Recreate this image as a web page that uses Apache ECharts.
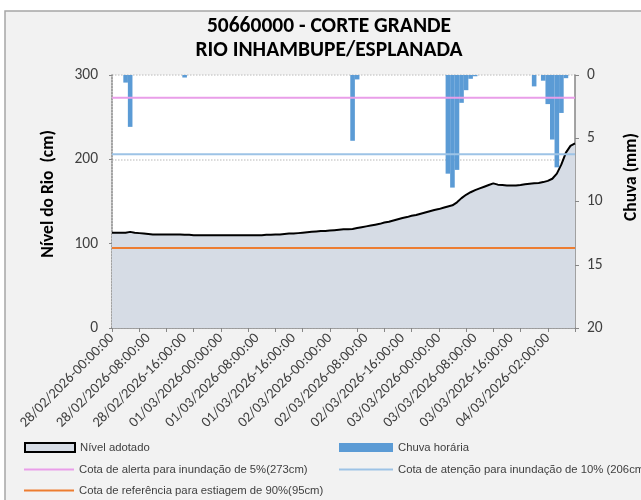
<!DOCTYPE html>
<html>
<head>
<meta charset="utf-8">
<script src="https://cdn.jsdelivr.net/npm/echarts@6/dist/echarts.min.js"></script>
<style>
  html, body { margin: 0; padding: 0; background: #fff; }
  #chart { width: 641px; height: 500px; }
</style>
</head>
<body>
<div id="chart"></div>
<script>
// categorias horarias (faltam 03/03 22:00 e 23:00)
const horas = [
  '28/02/2026-00:00:00','28/02/2026-01:00:00','28/02/2026-02:00:00','28/02/2026-03:00:00','28/02/2026-04:00:00','28/02/2026-05:00:00',
  '28/02/2026-06:00:00','28/02/2026-07:00:00','28/02/2026-08:00:00','28/02/2026-09:00:00','28/02/2026-10:00:00','28/02/2026-11:00:00',
  '28/02/2026-12:00:00','28/02/2026-13:00:00','28/02/2026-14:00:00','28/02/2026-15:00:00','28/02/2026-16:00:00','28/02/2026-17:00:00',
  '28/02/2026-18:00:00','28/02/2026-19:00:00','28/02/2026-20:00:00','28/02/2026-21:00:00','28/02/2026-22:00:00','28/02/2026-23:00:00',
  '01/03/2026-00:00:00','01/03/2026-01:00:00','01/03/2026-02:00:00','01/03/2026-03:00:00','01/03/2026-04:00:00','01/03/2026-05:00:00',
  '01/03/2026-06:00:00','01/03/2026-07:00:00','01/03/2026-08:00:00','01/03/2026-09:00:00','01/03/2026-10:00:00','01/03/2026-11:00:00',
  '01/03/2026-12:00:00','01/03/2026-13:00:00','01/03/2026-14:00:00','01/03/2026-15:00:00','01/03/2026-16:00:00','01/03/2026-17:00:00',
  '01/03/2026-18:00:00','01/03/2026-19:00:00','01/03/2026-20:00:00','01/03/2026-21:00:00','01/03/2026-22:00:00','01/03/2026-23:00:00',
  '02/03/2026-00:00:00','02/03/2026-01:00:00','02/03/2026-02:00:00','02/03/2026-03:00:00','02/03/2026-04:00:00','02/03/2026-05:00:00',
  '02/03/2026-06:00:00','02/03/2026-07:00:00','02/03/2026-08:00:00','02/03/2026-09:00:00','02/03/2026-10:00:00','02/03/2026-11:00:00',
  '02/03/2026-12:00:00','02/03/2026-13:00:00','02/03/2026-14:00:00','02/03/2026-15:00:00','02/03/2026-16:00:00','02/03/2026-17:00:00',
  '02/03/2026-18:00:00','02/03/2026-19:00:00','02/03/2026-20:00:00','02/03/2026-21:00:00','02/03/2026-22:00:00','02/03/2026-23:00:00',
  '03/03/2026-00:00:00','03/03/2026-01:00:00','03/03/2026-02:00:00','03/03/2026-03:00:00','03/03/2026-04:00:00','03/03/2026-05:00:00',
  '03/03/2026-06:00:00','03/03/2026-07:00:00','03/03/2026-08:00:00','03/03/2026-09:00:00','03/03/2026-10:00:00','03/03/2026-11:00:00',
  '03/03/2026-12:00:00','03/03/2026-13:00:00','03/03/2026-14:00:00','03/03/2026-15:00:00','03/03/2026-16:00:00','03/03/2026-17:00:00',
  '03/03/2026-18:00:00','03/03/2026-19:00:00','03/03/2026-20:00:00','03/03/2026-21:00:00',
  '04/03/2026-00:00:00','04/03/2026-01:00:00','04/03/2026-02:00:00','04/03/2026-03:00:00','04/03/2026-04:00:00','04/03/2026-05:00:00',
  '04/03/2026-06:00:00','04/03/2026-07:00:00','04/03/2026-08:00:00'
]

// nivel do rio (cm)
const nivel = [
  113, 113, 113, 113, 114, 113, 112.5, 112, 111.5, 111,
  111, 111, 111, 111, 111, 111, 110.5, 110.5, 110, 110,
  110, 110, 110, 110, 110, 110, 110, 110, 110, 110,
  110, 110, 110, 110, 110.5, 110.5, 111, 111, 111.5, 112,
  112, 112.5, 113, 113.5, 114, 114.5, 115, 115, 115.5, 116,
  116.5, 117, 117, 117.5, 118.5, 119.5, 120.5, 121.5, 122.5, 123.5,
  125, 126, 127.5, 129, 130.5, 131.5, 133, 134, 135.5, 137,
  138.5, 140, 141, 142.5, 144, 145.5, 149, 154, 158, 161,
  163.5, 165.5, 167.5, 169.5, 171.5, 170, 169.5, 169, 169, 169,
  169.5, 170.5, 171, 171.5, 172, 173, 174.5, 177, 183, 194,
  208, 216, 219
]

// chuva horaria (mm)
const chuva = [
  0, 0, 0, 0.6, 4.1, 0, 0, 0, 0, 0,
  0, 0, 0, 0, 0, 0, 0.2, 0, 0, 0,
  0, 0, 0, 0, 0, 0, 0, 0, 0, 0,
  0, 0, 0, 0, 0, 0, 0, 0, 0, 0,
  0, 0, 0, 0, 0, 0, 0, 0, 0, 0,
  0, 0, 0, 5.2, 0.35, 0, 0, 0, 0, 0,
  0, 0, 0, 0, 0, 0, 0, 0, 0, 0,
  0, 0, 0, 0, 7.8, 8.9, 7.5, 2.2, 1.2, 0.3,
  0.1, 0, 0, 0, 0, 0, 0, 0, 0, 0,
  0, 0, 0, 0.9, 0, 0.45, 2.3, 5.1, 7.3, 3.0,
  0.25, 0, 0
]

const cotaAlerta = 273
const cotaAtencao = 206
const cotaReferencia = 95

const nivelTicks = [0, 100, 200, 300]
const chuvaTicks = [0, 5, 10, 15, 20]

const FONT = 'Carlito, "Liberation Sans", Arial, sans-serif'
const LEG_FONT = '"Liberation Sans", Arial, sans-serif'

const first = horas[0]
const last = horas[horas.length - 1]

const legendBase = {
  orient: 'horizontal',
  padding: 0,
  itemGap: 0,
  selectedMode: false,
  textStyle: { fontSize: 11.3, color: '#404040', fontFamily: LEG_FONT }
}

const option = {
  animation: false,
  backgroundColor: '#ffffff',
  textStyle: { fontFamily: FONT },
  graphic: [
    {
      type: 'rect', z: -100, silent: true,
      shape: { x: 5, y: 11, width: 700, height: 600 },
      style: { fill: '#f2f2f2', stroke: '#a6a6a6', lineWidth: 1.5 }
    },
    {
      type: 'text', x: 329, y: 27,
      style: { text: '50660000 - CORTE GRANDE', font: 'bold 21.5px ' + FONT, fill: '#000', textAlign: 'center', textVerticalAlign: 'middle' }
    },
    {
      type: 'text', x: 329, y: 51,
      style: { text: 'RIO INHAMBUPE/ESPLANADA', font: 'bold 21.5px ' + FONT, fill: '#000', textAlign: 'center', textVerticalAlign: 'middle' }
    },
    {
      type: 'text', x: 49, y: 194, rotation: Math.PI / 2,
      style: { text: 'Nível do Rio  (cm)', font: 'bold 17.5px ' + FONT, fill: '#000', textAlign: 'center', textVerticalAlign: 'middle' }
    },
    {
      type: 'text', x: 632, y: 177, rotation: Math.PI / 2,
      style: { text: 'Chuva (mm)', font: 'bold 17.5px ' + FONT, fill: '#000', textAlign: 'center', textVerticalAlign: 'middle' }
    }
  ],
  grid: {
    left: 112, right: 66, top: 75, bottom: 172,
    show: true, backgroundColor: '#ffffff', borderWidth: 0
  },
  legend: [
    Object.assign({}, legendBase, {
      left: 24, top: 442, itemWidth: 50, itemHeight: 9,
      data: [{ name: 'Nível adotado', icon: 'rect', itemStyle: { color: '#d6dce5', borderColor: '#000', borderWidth: 2 } }]
    }),
    Object.assign({}, legendBase, {
      left: 339, top: 442, itemWidth: 54, itemHeight: 9,
      data: [{ name: 'Chuva horária', icon: 'rect', itemStyle: { color: '#5b9bd5' } }]
    }),
    Object.assign({}, legendBase, {
      left: 24, top: 464, itemWidth: 50, itemHeight: 2,
      data: [{ name: 'Cota de alerta para inundação de 5%(273cm)', icon: 'rect', itemStyle: { color: '#e99ee9' } }]
    }),
    Object.assign({}, legendBase, {
      left: 339, top: 464, itemWidth: 54, itemHeight: 2,
      data: [{ name: 'Cota de atenção para inundação de 10% (206cm)', icon: 'rect', itemStyle: { color: '#9dc3e6' } }]
    }),
    Object.assign({}, legendBase, {
      left: 24, top: 485, itemWidth: 50, itemHeight: 2,
      data: [{ name: 'Cota de referência para estiagem de 90%(95cm)', icon: 'rect', itemStyle: { color: '#ed7d31' } }]
    })
  ],
  xAxis: {
    type: 'category',
    data: horas,
    boundaryGap: false,
    axisLine: { lineStyle: { color: '#868686', width: 1.5 } },
    axisTick: { interval: 5, length: 4, lineStyle: { color: '#868686' } },
    axisLabel: { interval: 7, rotate: 45, margin: 8, fontSize: 14.5, color: '#404040', fontFamily: FONT },
    splitLine: { show: false }
  },
  yAxis: [
    {
      type: 'value',
      min: nivelTicks[0], max: nivelTicks[nivelTicks.length - 1], interval: 100,
      axisLine: { show: true, lineStyle: { color: '#868686', type: 'dotted', width: 1.5 } },
      axisTick: { show: true, length: 3, lineStyle: { color: '#868686' } },
      axisLabel: { margin: 14, fontSize: 15.5, color: '#404040', fontFamily: FONT },
      splitLine: { show: true, lineStyle: { color: '#cfcfcf', type: 'dotted', width: 1.5 } }
    },
    {
      type: 'value', position: 'right', inverse: true,
      min: chuvaTicks[0], max: chuvaTicks[chuvaTicks.length - 1], interval: 5,
      axisLine: { show: true, lineStyle: { color: '#868686', width: 1.5 } },
      axisTick: { show: true, length: 4, lineStyle: { color: '#868686' } },
      axisLabel: { margin: 12, fontSize: 15.5, color: '#404040', fontFamily: FONT },
      splitLine: { show: false }
    }
  ],
  series: [
    {
      name: 'Nível adotado',
      type: 'line',
      yAxisIndex: 0,
      data: nivel,
      showSymbol: false,
      itemStyle: { color: '#d6dce5', borderColor: '#000' },
      lineStyle: { color: '#000', width: 2 },
      areaStyle: { color: '#d6dce5', opacity: 1 },
      z: 2
    },
    {
      name: 'Chuva horária',
      type: 'bar',
      yAxisIndex: 1,
      data: chuva,
      barWidth: 4.6,
      itemStyle: { color: '#5b9bd5' },
      z: 3
    },
    {
      name: 'Cota de alerta para inundação de 5%(273cm)',
      type: 'line',
      yAxisIndex: 0,
      data: [[first, cotaAlerta], [last, cotaAlerta]],
      showSymbol: false,
      itemStyle: { color: '#e99ee9' },
      lineStyle: { color: '#e99ee9', width: 2 },
      z: 4
    },
    {
      name: 'Cota de atenção para inundação de 10% (206cm)',
      type: 'line',
      yAxisIndex: 0,
      data: [[first, cotaAtencao], [last, cotaAtencao]],
      showSymbol: false,
      itemStyle: { color: '#9dc3e6' },
      lineStyle: { color: '#9dc3e6', width: 2 },
      z: 4
    },
    {
      name: 'Cota de referência para estiagem de 90%(95cm)',
      type: 'line',
      yAxisIndex: 0,
      data: [[first, cotaReferencia], [last, cotaReferencia]],
      showSymbol: false,
      itemStyle: { color: '#ed7d31' },
      lineStyle: { color: '#ed7d31', width: 2 },
      z: 4
    }
  ]
}

const myChart = echarts.init(document.getElementById('chart'))
myChart.setOption(option)
window.onresize = function () {
  myChart.resize()
}
</script>
</body>
</html>
